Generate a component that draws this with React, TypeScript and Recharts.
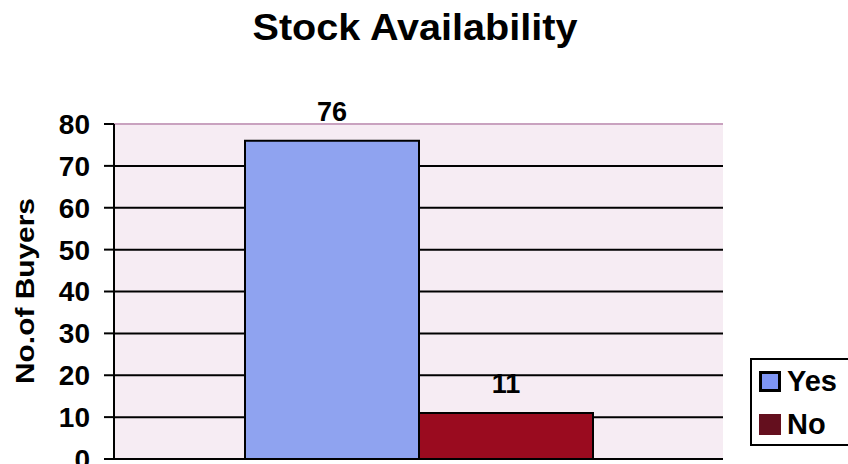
import React from 'react';
import {
  BarChart, Bar, XAxis, YAxis, CartesianGrid, Legend, LabelList, ReferenceLine
} from 'recharts';

const categories = ['Stock'];
const yesValues = [76];
const noValues = [11];
const yTicks = [0, 10, 20, 30, 40, 50, 60, 70, 80];

const seriesNames = ['Yes', 'No'];
const barColors = ['#8fa3f0', '#9a0b1f'];
const legendColors = ['#7f96f5', '#640f1e'];

const data = categories.map((c, i) => ({
  name: c,
  Yes: yesValues[i],
  No: noValues[i],
}));

const FONT = '"Liberation Sans", Arial, Helvetica, sans-serif';

// rotated axis title, stretched along its length like the original artwork
const YLabel = () => (
  <text
    x={34}
    y={291}
    transform="rotate(-90, 34, 291)"
    textAnchor="middle"
    textLength={186}
    lengthAdjust="spacingAndGlyphs"
    fontFamily={FONT}
    fontWeight="bold"
    fontSize={25}
    fill="#000"
  >
    No.of Buyers
  </text>
);

const LegendBox = () => (
  <div
    style={{
      width: 110,
      height: 88,
      boxSizing: 'border-box',
      border: '2px solid #000',
      background: '#fff',
      fontFamily: FONT,
      fontWeight: 'bold',
      fontSize: 29,
      paddingLeft: 7,
      paddingTop: 4,
    }}
  >
    {seriesNames.map((s, i) => (
      <div key={s} style={{ display: 'flex', alignItems: 'center', height: 35, marginBottom: i === 0 ? 8 : 0 }}>
        <span
          style={{
            display: 'inline-block',
            width: 22,
            height: 21,
            boxSizing: 'border-box',
            background: legendColors[i],
            border: i === 0 ? '3px solid #000' : 'none',
            marginRight: 6,
          }}
        />
        <span style={{ lineHeight: '29px' }}>{s}</span>
      </div>
    ))}
  </div>
);

export default function App() {
  return (
    <div style={{ position: 'absolute', left: 0, top: 0, width: 848, height: 464, background: '#fff' }}>
      <div
        style={{
          position: 'absolute',
          left: 0,
          top: 10,
          width: 830,
          textAlign: 'center',
          fontFamily: FONT,
          fontWeight: 'bold',
          fontSize: 36,
          lineHeight: '36px',
          color: '#000',
          transform: 'scaleX(1.1)',
          transformOrigin: '415px 0',
        }}
      >
        Stock Availability
      </div>
      <BarChart
        width={848}
        height={464}
        data={data}
        margin={{ top: 124, right: 125, left: 0, bottom: 5 }}
        barGap={0}
        barSize={174}
      >
        <CartesianGrid vertical={false} stroke="#000" strokeWidth={2} fill="#f6ecf3" />
        <XAxis dataKey="name" height={0} tick={false} tickLine={false} axisLine={{ stroke: '#000', strokeWidth: 2 }} />
        <YAxis
          domain={[0, 80]}
          ticks={yTicks}
          width={114}
          tickSize={10}
          tickMargin={14}
          interval={0}
          axisLine={{ stroke: '#000', strokeWidth: 2 }}
          tickLine={{ stroke: '#000', strokeWidth: 2 }}
          tick={{ fill: '#000', fontSize: 28, fontWeight: 'bold', fontFamily: FONT }}
          label={<YLabel />}
        />
        <YAxis yAxisId="right" orientation="right" width={0} tick={false} tickLine={false} axisLine={{ stroke: '#b9a6b6', strokeWidth: 2 }} />
        <ReferenceLine y={80} stroke="#c9a2bf" strokeWidth={2} />
        <Legend
          layout="horizontal"
          align="center"
          verticalAlign="middle"
          content={<LegendBox />}
          wrapperStyle={{ left: 750, top: 358, width: 110, height: 88 }}
        />
        {seriesNames.map((s, i) => (
          <Bar key={s} dataKey={s} fill={barColors[i]} stroke="#000" strokeWidth={2} isAnimationActive={false}>
            <LabelList
              dataKey={s}
              position="top"
              offset={20}
              fill="#000"
              fontSize={27}
              fontWeight="bold"
              fontFamily={FONT}
            />
          </Bar>
        ))}
      </BarChart>
    </div>
  );
}
